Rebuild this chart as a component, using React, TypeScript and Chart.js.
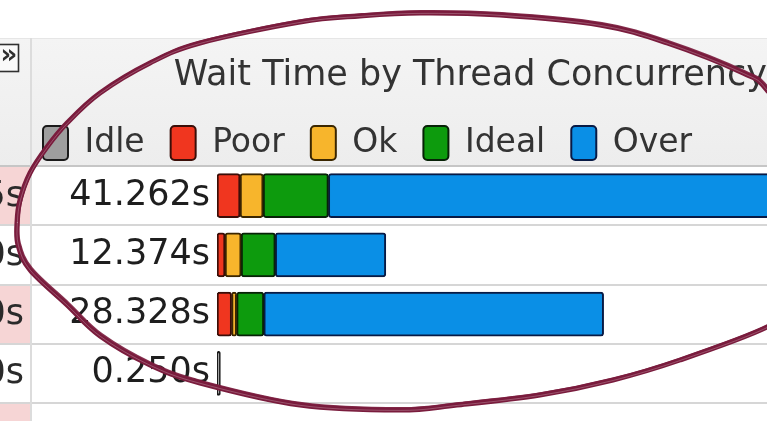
import React, { useEffect, useRef } from 'react';
import { Chart, registerables } from 'chart.js';

Chart.register(...registerables);

// ---- data ----
const rowTotals = ['41.262s', '12.374s', '28.328s', '0.250s'];
const leftColumnText = ['5s', '0s', '0s', '0s'];
const seriesNames = ['Idle', 'Poor', 'Ok', 'Ideal', 'Over'];
const idleValues = [null, null, null, 0.25];
const poorValues = [1.69, 0.59, 1.07, null];
const okValues = [1.69, 1.18, 0.37, null];
const idealValues = [4.78, 2.5, 1.99, null];
const overValues = [33.1, 8.1, 24.9, null];
const xAxisMax = 40.3;
const chartTitle = 'Wait Time by Thread Concurrency';

// ---- styles ----
const W = 767;
const H = 421;
const FONT = "'DejaVu Sans', 'Noto Sans', sans-serif";
const fills = ['#9e9e9e', '#f0361f', '#f7b52c', '#0d9b0d', '#0a8fe6'];
const borders = ['#1a1a1a', '#3a0e08', '#3a2600', '#072207', '#081a45'];
const HEADER_TOP = 38;
const HEADER_BOTTOM = 166;
const LEGEND_HEIGHT = 66;
const LEFT_COL = 30;

// hand-drawn annotation loop (decoration, not data)
const annotationPath: [number, number][] = [
  [17, 222], [20, 200], [30, 173], [47, 147], [67, 123], [100, 93], [150, 63],
  [200, 43], [300, 22], [360, 16], [420, 13], [500, 15], [600, 25], [667, 43],
  [743, 73], [767, 90], [810, 150], [825, 230], [800, 300], [767, 327],
  [680, 360], [613, 380], [540, 395], [457, 405], [400, 410], [300, 405],
  [200, 383], [150, 365], [100, 336], [67, 305], [30, 270], [18, 245],
];

function splinePath(ctx: CanvasRenderingContext2D, pts: [number, number][], dx = 0, dy = 0) {
  const n = pts.length;
  ctx.beginPath();
  ctx.moveTo(pts[0][0] + dx, pts[0][1] + dy);
  for (let i = 0; i < n; i++) {
    const p0 = pts[(i - 1 + n) % n];
    const p1 = pts[i];
    const p2 = pts[(i + 1) % n];
    const p3 = pts[(i + 2) % n];
    ctx.bezierCurveTo(
      p1[0] + (p2[0] - p0[0]) / 6 + dx, p1[1] + (p2[1] - p0[1]) / 6 + dy,
      p2[0] - (p3[0] - p1[0]) / 6 + dx, p2[1] - (p3[1] - p1[1]) / 6 + dy,
      p2[0] + dx, p2[1] + dy,
    );
  }
  ctx.closePath();
}

const tablePlugin = {
  id: 'tableBackground',
  beforeLayout(chart: any) {
    const lg = chart.legend;
    if (lg && !lg.__patched) {
      const orig = lg.fit.bind(lg);
      lg.fit = () => {
        orig();
        lg.height = LEGEND_HEIGHT;
      };
      lg.__patched = true;
    }
  },
  beforeDraw(chart: any) {
    const ctx: CanvasRenderingContext2D = chart.ctx;
    const y = chart.scales.y;
    ctx.save();
    ctx.fillStyle = '#ffffff';
    ctx.fillRect(0, 0, W, H);
    // header
    const g = ctx.createLinearGradient(0, HEADER_TOP, 0, HEADER_BOTTOM);
    g.addColorStop(0, '#f4f4f4');
    g.addColorStop(1, '#ededed');
    ctx.fillStyle = g;
    ctx.fillRect(0, HEADER_TOP, W, HEADER_BOTTOM - HEADER_TOP);
    ctx.fillStyle = '#e6e6e6';
    ctx.fillRect(0, HEADER_TOP, W, 1);

    // row bounds
    const n = rowTotals.length;
    const band = (y.bottom - y.top) / n;
    const bounds: number[] = [];
    for (let i = 0; i <= n + 1; i++) bounds.push(y.top + band * i);
    // left column cells
    for (let i = 0; i <= n; i++) {
      if (i % 2 === 0) {
        ctx.fillStyle = '#f6d5d5';
        ctx.fillRect(0, bounds[i], LEFT_COL, bounds[i + 1] - bounds[i]);
      }
    }
    // row lines
    ctx.fillStyle = '#d6d6d6';
    for (let i = 1; i <= n; i++) ctx.fillRect(0, Math.round(bounds[i]) - 1, W, 2);
    ctx.fillStyle = '#c6c6c6';
    ctx.fillRect(0, HEADER_BOTTOM - 1, W, 2);
    // column separator
    ctx.fillStyle = '#dcdcdc';
    ctx.fillRect(LEFT_COL, HEADER_TOP, 2, H - HEADER_TOP);

    // left column text (clipped values)
    ctx.font = `35px ${FONT}`;
    ctx.fillStyle = '#2a2a2a';
    ctx.textAlign = 'right';
    ctx.textBaseline = 'middle';
    for (let i = 0; i < n; i++) {
      ctx.fillText(leftColumnText[i], 24, y.getPixelForTick(i) + 1);
    }

    // expand icon
    ctx.fillStyle = '#fafafa';
    ctx.fillRect(0, 44, 19, 27);
    ctx.strokeStyle = '#303030';
    ctx.lineWidth = 1.6;
    ctx.strokeRect(-1, 44.5, 19.5, 27);
    ctx.fillStyle = '#303030';
    ctx.font = `bold 26px ${FONT}`;
    ctx.textAlign = 'center';
    ctx.fillText('\u00bb', 9, 56);
    ctx.restore();
  },
  afterDraw(chart: any) {
    const ctx: CanvasRenderingContext2D = chart.ctx;
    ctx.save();
    ctx.lineJoin = 'round';
    ctx.lineCap = 'round';
    ctx.strokeStyle = '#7a1c3d';
    ctx.lineWidth = 5;
    splinePath(ctx, annotationPath);
    ctx.stroke();
    ctx.lineWidth = 2.2;
    ctx.strokeStyle = 'rgba(122, 28, 61, 0.9)';
    splinePath(ctx, annotationPath, 1.8, -1.8);
    ctx.stroke();
    ctx.lineWidth = 0.8;
    ctx.strokeStyle = 'rgba(255, 255, 255, 0.3)';
    splinePath(ctx, annotationPath, 0.4, 0.4);
    ctx.stroke();
    ctx.restore();
  },
};

const seriesValues = [idleValues, poorValues, okValues, idealValues, overValues];

export default function App() {
  const canvasRef = useRef<HTMLCanvasElement | null>(null);

  useEffect(() => {
    const canvas = canvasRef.current;
    if (!canvas) return;
    const radius = { topLeft: 3, topRight: 3, bottomLeft: 3, bottomRight: 3 };
    const chart = new Chart(canvas, {
      type: 'bar',
      data: {
        labels: rowTotals,
        datasets: seriesNames.map((name, i) => ({
          label: name,
          data: seriesValues[i] as any,
          backgroundColor: fills[i],
          borderColor: borders[i],
          borderWidth: 2,
          borderRadius: radius,
          borderSkipped: false,
          barThickness: 44,
        })),
      },
      options: {
        indexAxis: 'y',
        responsive: false,
        animation: false,
        devicePixelRatio: 1,
        layout: { padding: { top: HEADER_TOP, left: 17, right: 0, bottom: 18 } },
        scales: {
          x: {
            stacked: true,
            display: false,
            min: 0,
            max: xAxisMax,
          },
          y: {
            stacked: true,
            grid: { display: false, drawTicks: false },
            border: { display: false },
            ticks: {
              padding: 7,
              color: '#1e1e1e',
              font: { family: FONT, size: 35 },
            },
            afterFit(scale: any) {
              scale.width = 200;
              scale.paddingTop = 0;
              scale.paddingBottom = 0;
            },
          },
        },
        plugins: {
          title: {
            display: true,
            text: chartTitle,
            align: 'end',
            color: '#333333',
            font: { family: FONT, size: 35, weight: 'normal' },
            padding: { top: 17, bottom: 3 },
          },
          legend: {
            display: true,
            position: 'top',
            align: 'start',
            labels: {
              boxWidth: 25,
              boxHeight: 34,
              padding: 26,
              color: '#333333',
              font: { family: FONT, size: 33 },
              useBorderRadius: true,
              borderRadius: 4,
            },
          },
          tooltip: { enabled: false },
        },
      } as any,
      plugins: [tablePlugin as any],
    });
    return () => chart.destroy();
  }, []);

  return (
    <div style={{ position: 'fixed', left: 0, top: 0, width: W, height: H, background: '#fff' }}>
      <canvas ref={canvasRef} width={W} height={H} style={{ display: 'block', width: W, height: H }} />
    </div>
  );
}
